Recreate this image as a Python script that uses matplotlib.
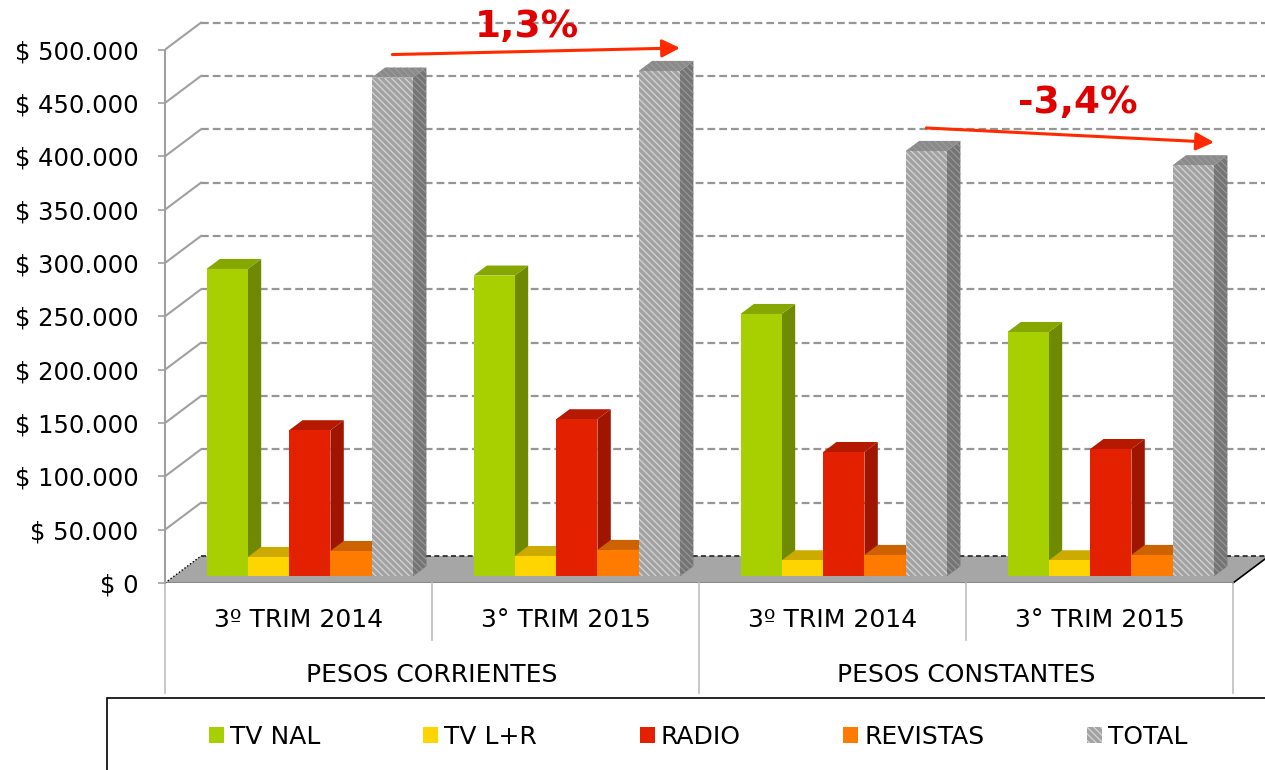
import matplotlib
matplotlib.use("Agg")
import matplotlib.pyplot as plt
import matplotlib.patches as mpatches
from matplotlib.ticker import FuncFormatter

plt.rcParams['font.family'] = ['DejaVu Sans']
plt.rcParams['hatch.linewidth'] = 0.9

# data (pesos)
periods = ["3º TRIM 2014", "3° TRIM 2015", "3º TRIM 2014", "3° TRIM 2015"]
groups = ["PESOS CORRIENTES", "PESOS CONSTANTES"]
series = ["TV NAL", "TV L+R", "RADIO", "REVISTAS", "TOTAL"]
tv_nal = [288100, 281900, 245900, 229000]
tv_lr = [18100, 19000, 15000, 15000]
radio = [136900, 147200, 116500, 119300]
revistas = [23700, 24700, 20000, 20000]
total = [467500, 473700, 398700, 385300]
pct_labels = ["1,3%", "-3,4%"]

values = [tv_nal, tv_lr, radio, revistas, total]
front_c = ['#a8d000', '#ffd500', '#e32000', '#ff7b00', '#a2a2a2']
top_c = ['#86a600', '#ccaa00', '#b51a00', '#cc6200', '#8a8a8a']
side_c = ['#6f8a00', '#b39500', '#a01500', '#b35600', '#747474']
# hatch colours for the striped TOTAL faces (front, top, side)
total_hatch = ['#d6d6d6', '#9a9a9a', '#969696']
HATCH = '\\\\\\\\\\'

W, H = 1265, 770
fig = plt.figure(figsize=(W / 100, H / 100), dpi=100)
ax = fig.add_axes([165 / W, 1 - 583 / H, 1100 / W, 583 / H])

px_cat = 267.0
val_px = 50000 / 53.34
ax.set_xlim(0, 1100 / px_cat)
ax.set_ylim(0, 583 * val_px)

# fake 3d depth
DX = 36 / px_cat
DY = 27 * val_px
z0, z1 = 0.248, 0.62
bw = 41.3 / px_cat
ddx = (z1 - z0) * DX
ddy = (z1 - z0) * DY
b0 = z0 * DY

ticks = list(range(0, 500001, 50000))

# floor
floor = mpatches.Polygon([(0, 0), (4, 0), (4 + DX, DY), (DX, DY)], closed=True,
                         facecolor='#a6a6a6', edgecolor='none', zorder=0.5)
ax.add_patch(floor)
ax.plot([0, 4], [0, 0], color='#8a8a8a', lw=1.5, zorder=0.6)
ax.plot([4, 4 + DX], [0, DY], color='black', lw=1.2, zorder=0.6, clip_on=False)
ax.plot([0, DX], [0, DY], color='black', lw=1.0, ls=(0, (1, 1.5)), zorder=0.7)
ax.plot([DX, 4.3], [DY, DY], color='#222222', lw=1.2, ls=(0, (3, 2)), zorder=0.7)

# back wall and side wall grid
for v in ticks[1:]:
    ax.plot([DX, 4.3], [v + DY, v + DY], color='#969696', lw=1.6,
            ls=(0, (3.5, 1.8)), zorder=1)
    ax.plot([0, DX], [v, v + DY], color='#a0a0a0', lw=1.5, zorder=1)

# bars
zo = 2.0
for i in range(4):
    for k in range(5):
        v = values[k][i]
        L = i + 41.5 / px_cat + k * bw
        striped = series[k] == "TOTAL"
        hatch = HATCH if striped else None
        side = mpatches.Polygon([(L + bw, b0), (L + bw + ddx, b0 + ddy),
                                 (L + bw + ddx, v + b0 + ddy), (L + bw, v + b0)],
                                closed=True, facecolor=side_c[k],
                                edgecolor=total_hatch[2] if striped else 'none',
                                lw=0, hatch=hatch, zorder=zo)
        ax.add_patch(side)
        top = mpatches.Polygon([(L, v + b0), (L + bw, v + b0),
                                (L + bw + ddx, v + b0 + ddy), (L + ddx, v + b0 + ddy)],
                               closed=True, facecolor=top_c[k],
                               edgecolor=total_hatch[1] if striped else 'none',
                               lw=0, hatch=hatch, zorder=zo + 0.01)
        ax.add_patch(top)
        ax.bar(L, v, width=bw, bottom=b0, align='edge', color=front_c[k],
               edgecolor=total_hatch[0] if striped else 'none', lw=0, hatch=hatch,
               zorder=zo + 0.02)
        zo += 0.05

# growth arrows between totals
arrow_kw = dict(arrowstyle='-|>,head_length=0.6,head_width=0.3', color='#ff2a00',
                lw=2.2, mutation_scale=18, shrinkA=0, shrinkB=0)
label_offsets = [(-9, 24), (8, 32)]
for j, lab in enumerate(pct_labels):
    a, b = 2 * j, 2 * j + 1
    x_start = a + 41.5 / px_cat + 4.5 * bw
    x_end = b + 41.5 / px_cat + 5 * bw
    y_start = total[a] + 1.1 * DY
    y_end = total[b] + 1.1 * DY
    ax.annotate('', xy=(x_end, y_end), xytext=(x_start, y_start),
                arrowprops=arrow_kw, zorder=10, annotation_clip=False)
    xm = (x_start + x_end) / 2
    ym = (y_start + y_end) / 2
    ax.annotate(lab, xy=(xm, ym), xytext=label_offsets[j], textcoords='offset pixels',
                ha='center', va='center', fontsize=27, fontweight='bold',
                color='#e00000', zorder=11, annotation_clip=False)

# y axis
ax.set_yticks(ticks)
ax.yaxis.set_major_formatter(FuncFormatter(lambda v, p: "$ " + f"{v:,.0f}".replace(",", ".")))
ax.tick_params(axis='y', length=5, width=1.2, color='#a0a0a0', pad=14, labelsize=17.5)
ax.set_xticks([])
for s in ['top', 'right', 'bottom']:
    ax.spines[s].set_visible(False)
ax.spines['left'].set_color('#a0a0a0')
ax.spines['left'].set_linewidth(1.5)
ax.spines['left'].set_bounds(0, 500000)
ax.patch.set_alpha(0)

# category table under the floor
tr = ax.get_xaxis_transform()
row1 = -(640 - 583) / 583
row2 = -(693 - 583) / 583
for x in [0, 2, 4]:
    ax.plot([x, x], [0, row2], transform=tr, color='#bfbfbf', lw=1.2, clip_on=False)
for x in [1, 3]:
    ax.plot([x, x], [0, row1], transform=tr, color='#bfbfbf', lw=1.2, clip_on=False)
for i, lab in enumerate(periods):
    ax.text(i + 0.5, -(620 - 583) / 583, lab, transform=tr, ha='center', va='center',
            fontsize=18)
for g, lab in enumerate(groups):
    ax.text(2 * g + 1, -(675 - 583) / 583, lab, transform=tr, ha='center', va='center',
            fontsize=18)

# legend
handles = []
for k, name in enumerate(series):
    if name == "TOTAL":
        handles.append(mpatches.Patch(facecolor=front_c[k], edgecolor=total_hatch[0], lw=0,
                                      hatch=HATCH, label=name))
    else:
        handles.append(mpatches.Patch(facecolor=front_c[k], lw=0, label=name))
fig.legend(handles=handles, ncol=5, loc='center left', bbox_to_anchor=(209 / W, 1 - 737 / H),
           frameon=False, fontsize=18, handlelength=0.6, handleheight=0.6,
           handletextpad=0.25, columnspacing=4.1, borderpad=0, borderaxespad=0)
fig.patches.append(mpatches.Rectangle((107 / W, -0.05), 1.0, 0.05 + (1 - 698 / H),
                                      transform=fig.transFigure, fill=False,
                                      edgecolor='black', lw=1.2))

fig.savefig("out.png", dpi=100)
